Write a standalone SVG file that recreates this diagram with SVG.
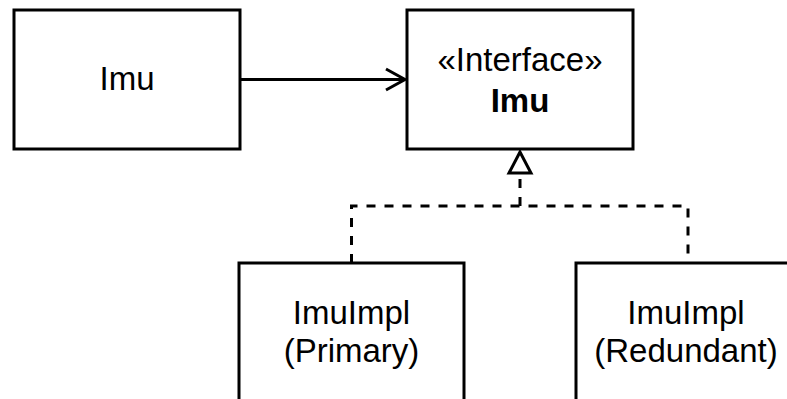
<svg xmlns="http://www.w3.org/2000/svg" width="787" height="399" viewBox="0 0 787 399">
<style>
.box{fill:#fff;stroke:#000;stroke-width:3}
.t{font-family:"Liberation Sans",Arial,sans-serif;font-size:33px;fill:#000;text-anchor:middle}
.b{font-weight:bold}
.ln{fill:none;stroke:#000;stroke-width:3}
.dash{fill:none;stroke:#000;stroke-width:3;stroke-dasharray:9 9}
</style>
<rect width="787" height="399" fill="#fff"/>
<g id="connectors">
<line class="ln" x1="240" y1="79.5" x2="404" y2="79.5"/>
<polyline class="ln" points="386,69 405,79.5 386,90"/>
<polyline class="dash" points="351.5,263 351.5,206 688,206 688,263"/>
<line class="dash" x1="520" y1="206" x2="520" y2="174"/>
<polygon class="ln" points="520,152 509,173 531,173"/>
</g>
<g id="imu-client">
<rect class="box" x="14" y="10" width="226" height="139"/>
<text class="t" x="127" y="90">Imu</text>
</g>
<g id="imu-interface">
<rect class="box" x="407" y="10" width="226" height="139"/>
<text class="t" x="520" y="71">«Interface»</text>
<text class="t b" x="520" y="112">Imu</text>
</g>
<g id="imu-primary">
<rect class="box" x="239" y="263" width="225" height="150"/>
<text class="t" x="351.5" y="324">ImuImpl</text>
<text class="t" x="351.5" y="362">(Primary)</text>
</g>
<g id="imu-redundant">
<rect class="box" x="576" y="263" width="225" height="150"/>
<text class="t" x="686" y="324">ImuImpl</text>
<text class="t" x="686" y="362">(Redundant)</text>
</g>
</svg>
